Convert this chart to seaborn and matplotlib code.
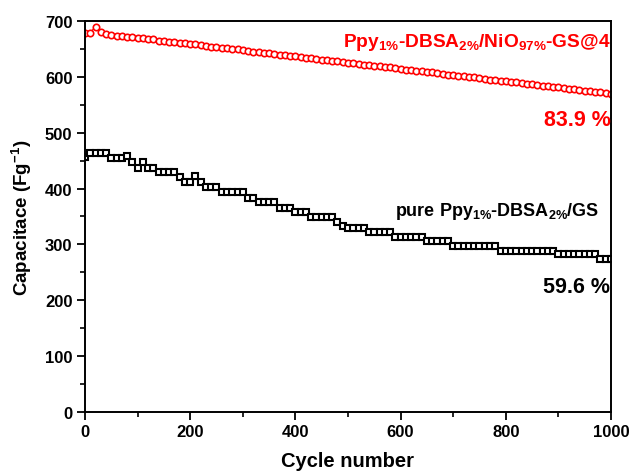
import matplotlib
matplotlib.use("Agg")
import matplotlib.pyplot as plt
from matplotlib.ticker import MultipleLocator
import seaborn as sns
import pandas as pd

sns.set_theme(style="ticks")
plt.rcParams["font.family"] = ["Liberation Sans", "DejaVu Sans"]
plt.rcParams["font.weight"] = "bold"
plt.rcParams["text.color"] = "black"
plt.rcParams["axes.labelcolor"] = "black"
plt.rcParams["mathtext.fontset"] = "custom"
plt.rcParams["mathtext.rm"] = "Liberation Sans:bold"
plt.rcParams["mathtext.bf"] = "Liberation Sans:bold"
plt.rcParams["mathtext.default"] = "bf"

# Cycle index (every 10 cycles)
cycles = list(range(0, 1001, 10))

# Ppy1%-DBSA2%/NiO97%-GS@4 specific capacitance (F/g)
cap_composite = [
    678, 679, 690, 681, 676, 675, 674, 673, 672, 671,
    670, 669, 668, 667, 665, 664, 663, 662, 661, 660,
    659, 658, 657, 655, 654, 653, 652, 651, 650, 649,
    648, 647, 645, 644, 643, 642, 641, 640, 639, 638,
    637, 635, 634, 633, 632, 631, 630, 629, 628, 627,
    625, 624, 623, 622, 621, 620, 619, 618, 617, 615,
    614, 613, 612, 611, 610, 609, 608, 607, 605, 604,
    603, 602, 601, 600, 599, 598, 597, 595, 594, 593,
    592, 591, 590, 589, 588, 587, 585, 584, 583, 582,
    581, 580, 579, 578, 577, 575, 574, 573, 572, 571,
    570,
]

# pure Ppy1%-DBSA2%/GS specific capacitance (F/g)
cap_pure = [
    457, 463, 463, 463, 463, 455, 455, 455, 458, 448,
    437, 448, 437, 437, 430, 430, 430, 430, 421, 412,
    412, 422, 412, 403, 403, 403, 394, 394, 394, 394,
    394, 383, 383, 376, 376, 376, 376, 365, 365, 365,
    358, 358, 358, 349, 349, 349, 349, 349, 340, 333,
    329, 329, 329, 329, 322, 322, 322, 322, 322, 313,
    313, 313, 313, 313, 313, 306, 306, 306, 306, 306,
    297, 297, 297, 297, 297, 297, 297, 297, 297, 289,
    289, 289, 289, 289, 289, 289, 289, 289, 289, 289,
    282, 282, 282, 282, 282, 282, 282, 282, 273, 273,
    273,
]

label_composite = r"Ppy$_{1\%}$-DBSA$_{2\%}$/NiO$_{97\%}$-GS@4"
label_pure = r"pure Ppy$_{1\%}$-DBSA$_{2\%}$/GS"
retention_composite = "83.9 %"
retention_pure = "59.6 %"

df = pd.DataFrame({"cycle": cycles, "composite": cap_composite, "pure": cap_pure})

fig = plt.figure(figsize=(6.31, 4.77), dpi=100)
ax = fig.add_axes([0.1347, 0.1342, 0.8336, 0.8197])

sns.lineplot(data=df, x="cycle", y="pure", ax=ax, color="black", lw=1.2,
             marker="s", markersize=4.2, markerfacecolor="white",
             markeredgecolor="black", markeredgewidth=1.5)
sns.lineplot(data=df, x="cycle", y="composite", ax=ax, color="red", lw=1.0,
             marker="o", markersize=4.6, markerfacecolor="white",
             markeredgecolor="red", markeredgewidth=1.2)

ax.set_xlim(0, 1000)
ax.set_ylim(0, 700)
ax.xaxis.set_major_locator(MultipleLocator(200))
ax.xaxis.set_minor_locator(MultipleLocator(100))
ax.yaxis.set_major_locator(MultipleLocator(100))
ax.yaxis.set_minor_locator(MultipleLocator(50))

for s in ax.spines.values():
    s.set_linewidth(1.4)
    s.set_color("black")
ax.tick_params(which="major", direction="out", length=6, width=1.3,
               labelsize=12, colors="black", pad=3)
ax.tick_params(which="minor", direction="out", length=3.5, width=1.2,
               colors="black")
for lab in ax.get_xticklabels() + ax.get_yticklabels():
    lab.set_fontweight("bold")

ax.set_xlabel("Cycle number", fontsize=14.5, fontweight="bold", labelpad=8)
ax.set_ylabel(r"Capacitace (Fg$^{-1}$)", fontsize=13.5, fontweight="bold", labelpad=8)

ax.text(1000, 663, label_composite, color="red", fontsize=13.8, fontweight="bold",
        ha="right", va="center")
ax.text(1000, 524, retention_composite, color="red", fontsize=15.5, fontweight="bold",
        ha="right", va="center")
ax.text(978, 360, label_pure, color="black", fontsize=13, fontweight="bold",
        ha="right", va="center")
ax.text(998, 225, retention_pure, color="black", fontsize=15.5, fontweight="bold",
        ha="right", va="center")

ax.grid(False)
fig.savefig("out.png", dpi=100, facecolor="white")
